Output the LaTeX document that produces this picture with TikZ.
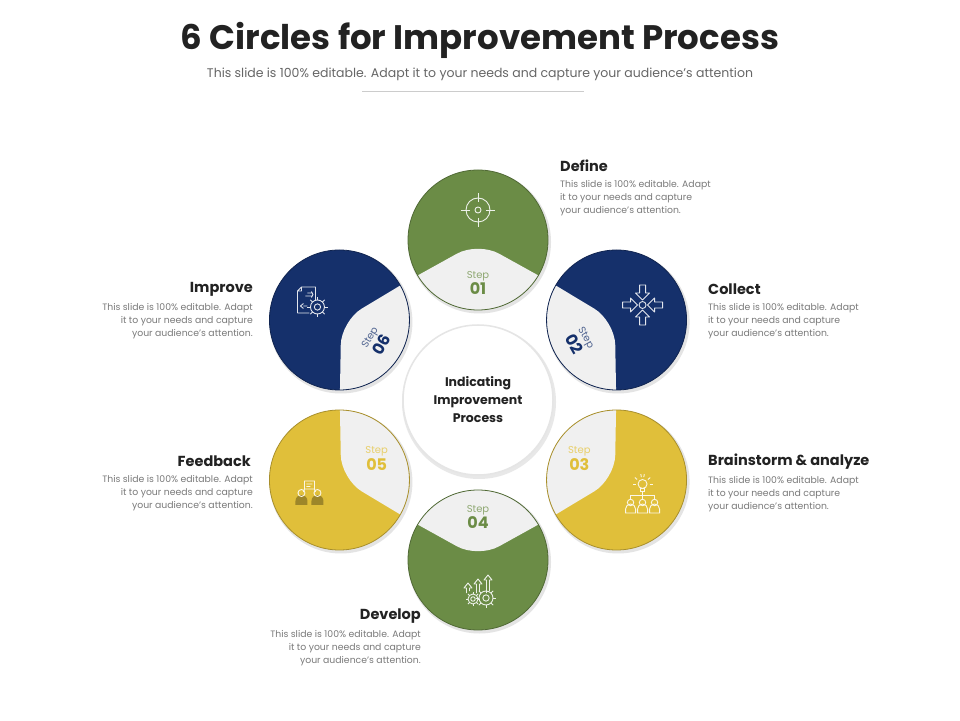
\documentclass[tikz,border=0pt]{standalone}
\usepackage{fontspec}
\setmainfont{Poppins}
\usetikzlibrary{calc}
\definecolor{cgreen}{HTML}{6B8C46}
\definecolor{cnavy}{HTML}{15306B}
\definecolor{cyellow}{HTML}{E0BF3A}
\definecolor{cgray}{HTML}{F0F0F0}
\definecolor{ctxt}{HTML}{222222}
\definecolor{cdesc}{HTML}{7A7A7A}
\newcommand\stepcircle[5]{%
 \coordinate (#1) at ($(C)+(#2:160)$);
 \fill[black!30,opacity=.35] ($(#1)+(1.5,-2)$) circle (71.5);
 \node[circle,fill=#3,minimum size=140pt,inner sep=0] (#1c) at (#1) {};
 \begin{scope}
  \clip (#1) circle (70);
  \fill[cgray,rounded corners=24pt] ($(#1)+(#2+240:100)$) -- ($(#1)+(#2+180:2)$) -- ($(#1)+(#2+120:100)$) -- ($(#1)+(#2+180:130)$) -- cycle;
 \end{scope}
 \draw[#3!75!black,line width=0.8pt] (#1) circle (70);
 \node[rotate=#5,align=center,inner sep=0] (#1t) at ($(#1)+(#2+180:43)$) {{\fontsize{10}{12}\selectfont\color{#3!75!white}Step}\\[1pt]{\fontsize{16}{16}\selectfont\bfseries\color{#3} #4}};
 \coordinate (#1i) at ($(#1)+(#2:30)$);
}
\tikzset{
 head/.style={font=\fontsize{14.5}{16}\selectfont\bfseries,text=ctxt,inner sep=0},
 desc/.style={font=\fontsize{9.3}{13}\selectfont,text=cdesc,inner sep=0},
 ic/.style={line width=0.9pt,draw=white!88!#1},
}
\newcommand\cog[2]{% center, radius
 \draw #1 circle (#2) #1 circle (#2*0.45);
 \foreach \k in {0,45,...,315}{\draw #1 ++(\k:#2) -- ++(\k:#2*0.45);}
}
\begin{document}
\begin{tikzpicture}[x=1pt,y=1pt]
\useasboundingbox (0,0) rectangle (960,720);
\fill[white] (0,0) rectangle (960,720);
\node[font=\fontsize{34}{38}\selectfont\bfseries,text=ctxt,inner sep=0] (title) at (480,680) {6 Circles for Improvement Process};
\node[font=\fontsize{12.5}{14}\selectfont,text=black!60,inner sep=0] (sub) at (480,646) {This slide is 100\% editable. Adapt it to your needs and capture your audience's attention};
\coordinate (l1) at (362,629); \coordinate (l2) at (584,629);
\draw[black!20,line width=0.6pt] (l1) -- (l2);
\coordinate (C) at (478,320);
\stepcircle{s1}{90}{cgreen}{01}{0}
\stepcircle{s2}{30}{cnavy}{02}{-60}
\stepcircle{s3}{-30}{cyellow}{03}{0}
\stepcircle{s4}{-90}{cgreen}{04}{0}
\stepcircle{s5}{-150}{cyellow}{05}{0}
\stepcircle{s6}{150}{cnavy}{06}{60}
% center
\fill[black!25,opacity=.35] ($(C)+(1,-2)$) circle (77);
\node[circle,fill=white,draw=black!10,line width=1.5pt,minimum size=150pt,inner sep=0,align=center,font=\fontsize{12.5}{18}\selectfont\bfseries,text=ctxt] (cc) at (C) {Indicating\\Improvement\\Process};
% icons
\begin{scope}[shift={(s1i)},ic=cgreen]
 \draw (0,0) circle (12) (0,0) circle (3);
 \foreach \k in {0,90,180,270}{\draw (\k:8) -- (\k:17);}
\end{scope}
\begin{scope}[shift={(s2i)},ic=cnavy]
 \draw (0,0) circle (3.5);
 \foreach \k in {0,90,180,270}{\draw[rotate=\k,line join=round] (-3,20)--(3,20)--(3,12)--(7,12)--(0,5)--(-7,12)--(-3,12)--cycle;}
\end{scope}
\begin{scope}[shift={($(s3i)+(0,-4)$)},ic=cyellow]
 \draw (0,15) circle (4.5); \draw (-2,10.5) rectangle (2,8);
 \foreach \k in {0,40,80,100,140,180}{\draw (0,15)++(\k:7) -- ++(\k:3);}
 \draw (0,8) -- (0,4) (-12,4) -- (12,4) (-12,4) -- (-12,0) (0,4)--(0,0) (12,4)--(12,0);
 \foreach \x in {-12,0,12}{\draw (\x,-3.5) circle (3.2); \draw (\x-5,-14) -- (\x-5,-10) arc (180:0:5) -- (\x+5,-14) -- cycle;}
\end{scope}
\begin{scope}[shift={(s4i)},ic=cgreen]
 \foreach \x/\h in {-10/0,0/4,10/8}{\draw[line join=round] (\x-1.5,-3) -- (\x-1.5,\h+2) -- (\x-4,\h+2) -- (\x,\h+7) -- (\x+4,\h+2) -- (\x+1.5,\h+2) -- (\x+1.5,-1);}
 \cog{(-5,-9)}{5}
 \cog{(8,-8)}{7}
\end{scope}
\begin{scope}[shift={($(s5i)+(-4,0)$)}]
 \fill[cyellow!70!black] (-14,-10) -- (-14,-6) arc (180:0:6) -- (-2,-10) -- cycle;
 \fill[cyellow!70!black] (2,-10) -- (2,-6) arc (180:0:6) -- (14,-10) -- cycle;
 \draw[ic=cyellow] (-8,2) circle (3.5) (8,2) circle (3.5);
 \draw[ic=cyellow] (-5,6) rectangle (5,14) (-3,11)--(3,11) (-3,8.5)--(1,8.5) (-5,6)--(-6,3) (5,6)--(6,3);
\end{scope}
\begin{scope}[shift={($(s6i)+(-4,4)$)},ic=cnavy]
 \draw[line join=round] (-12,-12) -- (-12,10) -- (-8,14) -- (6,14) -- (6,0) (-8,14) -- (-8,10) -- (-12,10) (-12,-12) -- (0,-12);
 \draw (-2,8) -- (2,8) (-4,5) -- (2,5) (2,9.5) -- (3.5,6.5) -- (2,3.5);
 \draw (-6,-2.5) -- (-9,-5) -- (-6,-7.5) (-6,-5) -- (-2,-5);
 \cog{(8,-6)}{7}
\end{scope}
% labels
\node[head,anchor=west] (h1) at (560,554) {Define};
\node[desc,anchor=north west,align=left] (d1) at (560,540) {This slide is 100\% editable. Adapt\\it to your needs and capture\\your audience's attention.};
\node[head,anchor=west] (h2) at (708,431) {Collect};
\node[desc,anchor=north west,align=left] (d2) at (708,417) {This slide is 100\% editable. Adapt\\it to your needs and capture\\your audience's attention.};
\node[head,anchor=west] (h3) at (708,258) {Brainstorm \& analyze};
\node[desc,anchor=north west,align=left] (d3) at (708,244) {This slide is 100\% editable. Adapt\\it to your needs and capture\\your audience's attention.};
\node[head,anchor=east] (h4) at (421,104) {Develop};
\node[desc,anchor=north east,align=right] (d4) at (421,90) {This slide is 100\% editable. Adapt\\it to your needs and capture\\your audience's attention.};
\node[head,anchor=east] (h5) at (251,259) {Feedback};
\node[desc,anchor=north east,align=right] (d5) at (253,245) {This slide is 100\% editable. Adapt\\it to your needs and capture\\your audience's attention.};
\node[head,anchor=east] (h6) at (253,431) {Improve};
\node[desc,anchor=north east,align=right] (d6) at (253,417) {This slide is 100\% editable. Adapt\\it to your needs and capture\\your audience's attention.};
\end{tikzpicture}
\end{document}
